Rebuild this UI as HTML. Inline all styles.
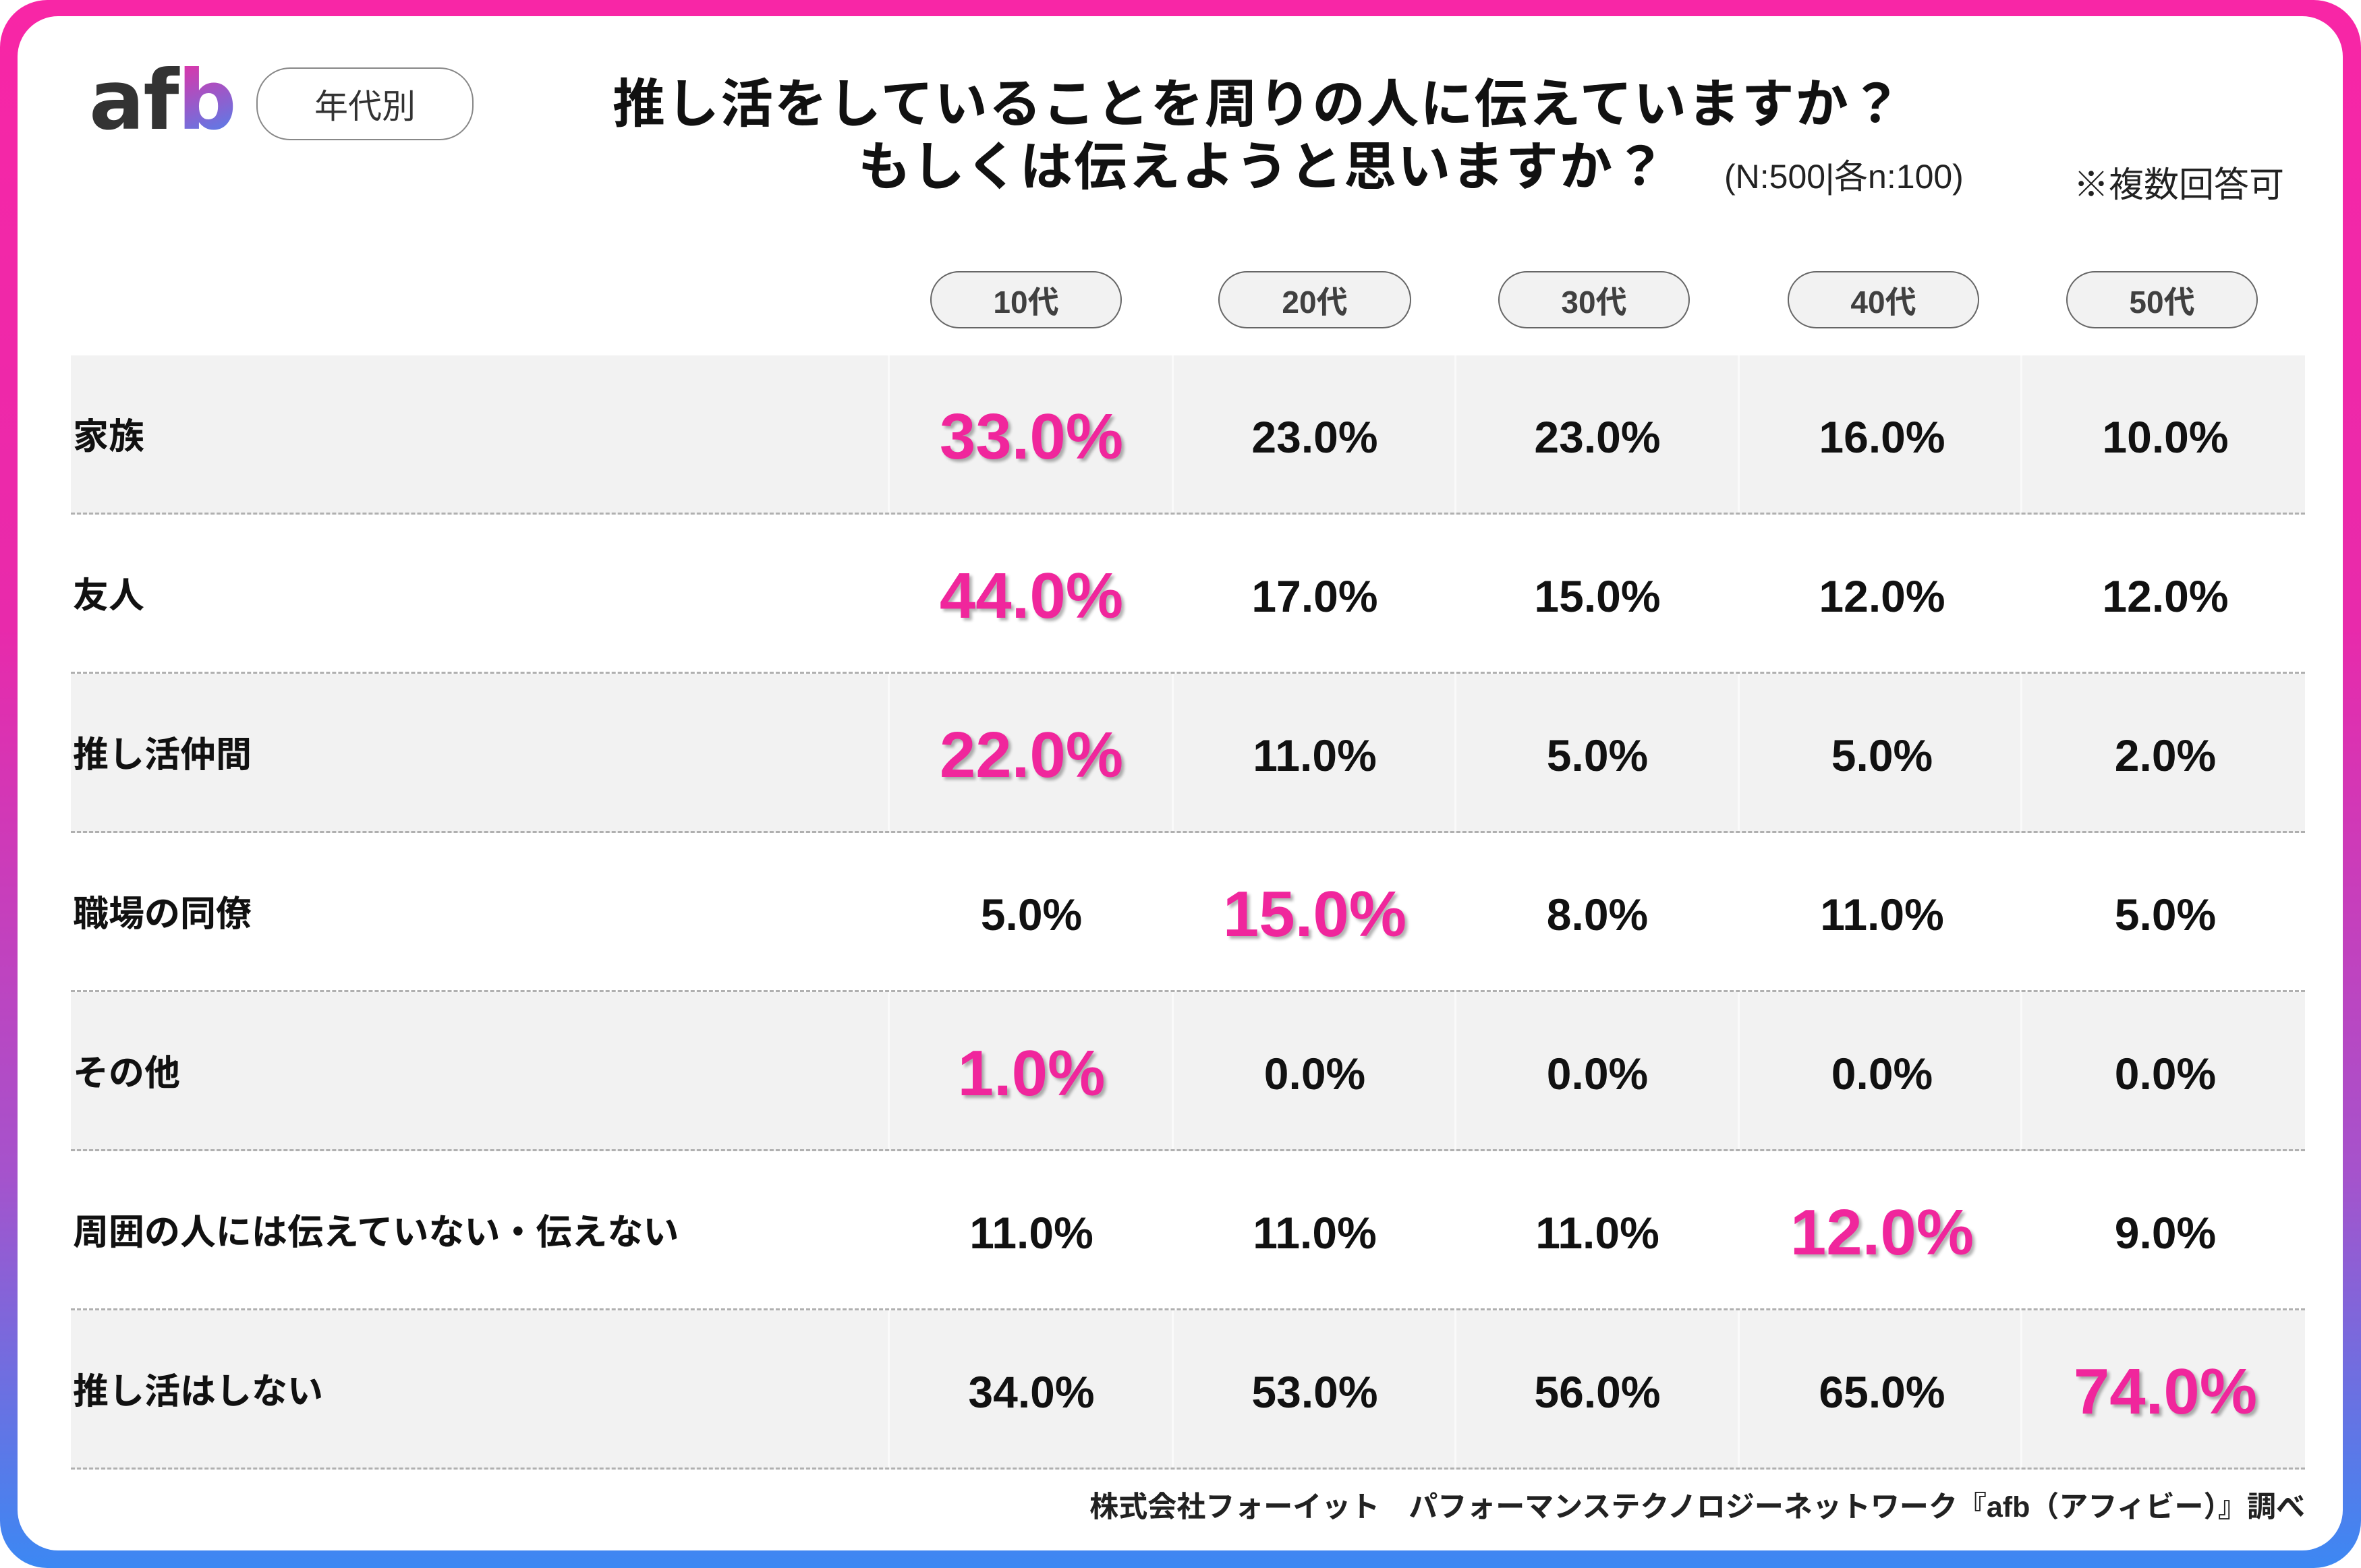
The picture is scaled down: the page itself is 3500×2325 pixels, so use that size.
<!DOCTYPE html>
<html><head><meta charset="utf-8"><style>
*{margin:0;padding:0;box-sizing:border-box}
body{width:3500px;height:2325px;overflow:hidden;background:#fff;font-family:"Liberation Sans","Noto Sans CJK JP",sans-serif}
#frame{position:absolute;left:0;top:0;width:3500px;height:2325px;border-radius:70px;background:linear-gradient(180deg,#f826a6 0%,#e82aab 40%,#a553cc 75%,#3c88f3 100%)}
#inner{position:absolute;left:26px;top:24px;right:27px;bottom:26px;background:#fff;border-radius:60px}
.a{position:absolute;white-space:nowrap}
.pill{position:absolute;border:2px solid #666;border-radius:50px;background:#f2f2f2;color:#404040;font-weight:bold;font-size:46px;display:flex;align-items:center;justify-content:center}
.row{position:absolute;left:105px;width:3312px;height:236px;border-bottom:3px dashed #b0b0b0}
.g{background:#f2f2f2}
.lab{position:absolute;left:108px;font-size:53px;font-weight:bold;color:#111;transform:translateY(-50%)}
.v{position:absolute;width:400px;text-align:center;font-weight:bold;font-size:66px;color:#111;transform:translate(-50%,-50%)}
.h{font-size:96px;color:#f0269c;text-shadow:4px 4px 4px rgba(0,0,0,0.3)}
.sep{position:absolute;width:3px;background:#fafafa}
</style></head><body>
<div id="frame"></div><div id="inner"></div>
<div class="a" style="left:132px;top:88px;font-size:122px;font-weight:bold;color:#333;letter-spacing:-2px;font-family:'DejaVu Sans',sans-serif;line-height:1">af<span style="background:linear-gradient(160deg,#f02aa0,#3d8cf5);-webkit-background-clip:text;background-clip:text;color:transparent">b</span></div>
<div class="pill" style="left:380px;top:100px;width:322px;height:108px;background:#fff;font-weight:normal;font-size:50px;color:#333;border-color:#888">年代別</div>
<div class="a" style="left:908px;top:92px;font-size:78px;font-weight:bold;color:#111;letter-spacing:2px">推し活をしていることを周りの人に伝えていますか？</div>
<div class="a" style="left:1272px;top:185px;font-size:78px;font-weight:bold;color:#111;letter-spacing:2px">もしくは伝えようと思いますか？</div>
<div class="a" style="left:2556px;top:222px;font-size:50px;color:#222">(N:500|各n:100)</div>
<div class="a" style="left:3074px;top:232px;font-size:52px;color:#222">※複数回答可</div>
<div class="pill" style="left:1379px;top:402px;width:284px;height:85px">10代</div>
<div class="pill" style="left:1806px;top:402px;width:286px;height:85px">20代</div>
<div class="pill" style="left:2221px;top:402px;width:284px;height:85px">30代</div>
<div class="pill" style="left:2650px;top:402px;width:284px;height:85px">40代</div>
<div class="pill" style="left:3063px;top:402px;width:284px;height:85px">50代</div>

<div class="row g" style="top:527px"></div>
<div class="row" style="top:763px"></div>
<div class="row g" style="top:999px"></div>
<div class="row" style="top:1235px"></div>
<div class="row g" style="top:1471px"></div>
<div class="row" style="top:1707px"></div>
<div class="row g" style="top:1943px"></div>

<div class="sep" style="left:1316px;top:527px;height:233px"></div><div class="sep" style="left:1737px;top:527px;height:233px"></div><div class="sep" style="left:2156px;top:527px;height:233px"></div><div class="sep" style="left:2576px;top:527px;height:233px"></div><div class="sep" style="left:2995px;top:527px;height:233px"></div>
<div class="sep" style="left:1316px;top:999px;height:233px"></div><div class="sep" style="left:1737px;top:999px;height:233px"></div><div class="sep" style="left:2156px;top:999px;height:233px"></div><div class="sep" style="left:2576px;top:999px;height:233px"></div><div class="sep" style="left:2995px;top:999px;height:233px"></div>
<div class="sep" style="left:1316px;top:1471px;height:233px"></div><div class="sep" style="left:1737px;top:1471px;height:233px"></div><div class="sep" style="left:2156px;top:1471px;height:233px"></div><div class="sep" style="left:2576px;top:1471px;height:233px"></div><div class="sep" style="left:2995px;top:1471px;height:233px"></div>
<div class="sep" style="left:1316px;top:1943px;height:233px"></div><div class="sep" style="left:1737px;top:1943px;height:233px"></div><div class="sep" style="left:2156px;top:1943px;height:233px"></div><div class="sep" style="left:2576px;top:1943px;height:233px"></div><div class="sep" style="left:2995px;top:1943px;height:233px"></div>

<div class="lab" style="top:643px">家族</div>
<div class="lab" style="top:879px">友人</div>
<div class="lab" style="top:1115px">推し活仲間</div>
<div class="lab" style="top:1351px">職場の同僚</div>
<div class="lab" style="top:1587px">その他</div>
<div class="lab" style="top:1823px">周囲の人には伝えていない・伝えない</div>
<div class="lab" style="top:2059px">推し活はしない</div>

<div class="v h" style="left:1529px;top:648px">33.0%</div><div class="v" style="left:1949px;top:648px">23.0%</div><div class="v" style="left:2368px;top:648px">23.0%</div><div class="v" style="left:2790px;top:648px">16.0%</div><div class="v" style="left:3210px;top:648px">10.0%</div>
<div class="v h" style="left:1529px;top:884px">44.0%</div><div class="v" style="left:1949px;top:884px">17.0%</div><div class="v" style="left:2368px;top:884px">15.0%</div><div class="v" style="left:2790px;top:884px">12.0%</div><div class="v" style="left:3210px;top:884px">12.0%</div>
<div class="v h" style="left:1529px;top:1120px">22.0%</div><div class="v" style="left:1949px;top:1120px">11.0%</div><div class="v" style="left:2368px;top:1120px">5.0%</div><div class="v" style="left:2790px;top:1120px">5.0%</div><div class="v" style="left:3210px;top:1120px">2.0%</div>
<div class="v" style="left:1529px;top:1356px">5.0%</div><div class="v h" style="left:1949px;top:1356px">15.0%</div><div class="v" style="left:2368px;top:1356px">8.0%</div><div class="v" style="left:2790px;top:1356px">11.0%</div><div class="v" style="left:3210px;top:1356px">5.0%</div>
<div class="v h" style="left:1529px;top:1592px">1.0%</div><div class="v" style="left:1949px;top:1592px">0.0%</div><div class="v" style="left:2368px;top:1592px">0.0%</div><div class="v" style="left:2790px;top:1592px">0.0%</div><div class="v" style="left:3210px;top:1592px">0.0%</div>
<div class="v" style="left:1529px;top:1828px">11.0%</div><div class="v" style="left:1949px;top:1828px">11.0%</div><div class="v" style="left:2368px;top:1828px">11.0%</div><div class="v h" style="left:2790px;top:1828px">12.0%</div><div class="v" style="left:3210px;top:1828px">9.0%</div>
<div class="v" style="left:1529px;top:2064px">34.0%</div><div class="v" style="left:1949px;top:2064px">53.0%</div><div class="v" style="left:2368px;top:2064px">56.0%</div><div class="v" style="left:2790px;top:2064px">65.0%</div><div class="v h" style="left:3210px;top:2064px">74.0%</div>

<div class="a" style="right:83px;top:2200px;font-size:43px;font-weight:bold;color:#222">株式会社フォーイット　パフォーマンステクノロジーネットワーク『afb（アフィビー）』調べ</div>
</body></html>
